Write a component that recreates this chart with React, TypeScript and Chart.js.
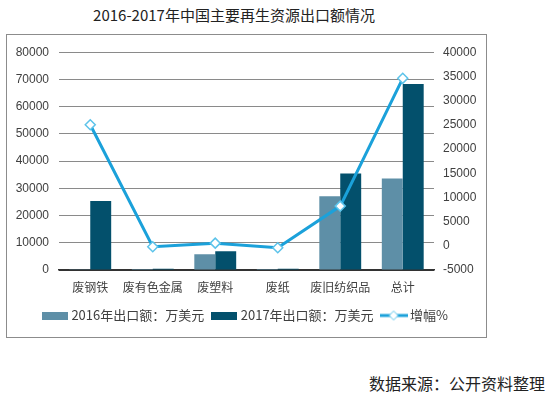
import React, { useEffect, useRef } from 'react';
import { Chart, registerables } from 'chart.js';

Chart.register(...registerables);

const categories = ['废钢铁', '废有色金属', '废塑料', '废纸', '废旧纺织品', '总计'];
const export2016 = [300, 400, 5800, 350, 27100, 33600];
const export2017 = [25300, 500, 6900, 450, 35400, 68300];
const growthPct = [25000, -200, 550, -400, 8200, 34600];
const seriesNames = ['2016年出口额：万美元', '2017年出口额：万美元', '增幅%'];
const titleText = '2016-2017年中国主要再生资源出口额情况';
const sourceText = '数据来源：公开资料整理';

const c2016 = '#5E8FA7';
const c2017 = '#03506C';
const lineColor = '#1BA1DA';
const markerBorder = '#5CC3EA';
const textColor = '#404040';
const cjk = '"Noto Sans CJK SC", "Noto Sans", sans-serif';
const num = '"Liberation Sans", Arial, sans-serif';

function mk(w: number, h: number, draw: (ctx: CanvasRenderingContext2D) => void) {
  const c = document.createElement('canvas');
  c.width = w;
  c.height = h;
  const ctx = c.getContext('2d') as CanvasRenderingContext2D;
  draw(ctx);
  return c;
}

export default function App() {
  const ref = useRef<HTMLCanvasElement>(null);
  useEffect(() => {
    const sw16 = mk(26, 8, (ctx) => { ctx.fillStyle = c2016; ctx.fillRect(0, 0, 26, 8); });
    const sw17 = mk(26, 8, (ctx) => { ctx.fillStyle = c2017; ctx.fillRect(0, 0, 26, 8); });
    const lineIc = mk(28, 12, (ctx) => {
      ctx.strokeStyle = lineColor;
      ctx.lineWidth = 3;
      ctx.beginPath();
      ctx.moveTo(0, 6);
      ctx.lineTo(28, 6);
      ctx.stroke();
      ctx.beginPath();
      ctx.moveTo(9.5, 6);
      ctx.lineTo(14, 1.5);
      ctx.lineTo(18.5, 6);
      ctx.lineTo(14, 10.5);
      ctx.closePath();
      ctx.fillStyle = '#fff';
      ctx.fill();
      ctx.lineWidth = 1;
      ctx.strokeStyle = markerBorder;
      ctx.stroke();
    });
    const icons = [sw16, sw17, lineIc];

    const chart = new Chart(ref.current as HTMLCanvasElement, {
      type: 'bar',
      data: {
        labels: categories,
        datasets: [
          {
            type: 'line',
            label: seriesNames[2],
            data: growthPct,
            yAxisID: 'y1',
            borderColor: lineColor,
            borderWidth: 3,
            tension: 0,
            pointStyle: 'rectRot',
            pointRadius: 5,
            pointBackgroundColor: '#fff',
            pointBorderColor: markerBorder,
            pointBorderWidth: 1.5,
            order: 0,
          } as any,
          {
            type: 'bar',
            label: seriesNames[0],
            data: export2016,
            yAxisID: 'y',
            backgroundColor: c2016,
            barPercentage: 1,
            categoryPercentage: 0.67,
            order: 1,
          },
          {
            type: 'bar',
            label: seriesNames[1],
            data: export2017,
            yAxisID: 'y',
            backgroundColor: c2017,
            barPercentage: 1,
            categoryPercentage: 0.67,
            order: 2,
          },
        ],
      },
      options: {
        responsive: false,
        maintainAspectRatio: false,
        animation: false,
        devicePixelRatio: 1,
        layout: { padding: { top: 9, left: 0, right: 0, bottom: 5 } },
        plugins: {
          tooltip: { enabled: false },
          title: { display: false },
          legend: {
            position: 'bottom',
            labels: {
              usePointStyle: true,
              pointStyleWidth: 20,
              padding: 10,
              font: { family: cjk, size: 13 },
              color: textColor,
              generateLabels: () =>
                seriesNames.map((t, i) => ({
                  text: t,
                  pointStyle: icons[i] as any,
                  fillStyle: 'transparent',
                  strokeStyle: 'transparent',
                  lineWidth: 0,
                  hidden: false,
                  fontColor: textColor,
                  datasetIndex: i,
                })),
            },
          },
        },
        scales: {
          x: {
            offset: true,
            grid: { display: false, drawTicks: false },
            border: { display: true, color: '#333', width: 1.5 },
            ticks: {
              padding: 10,
              autoSkip: false,
              maxRotation: 0,
              color: textColor,
              font: { family: cjk, size: 12 },
            },
            afterFit: (s: any) => { s.height = 29; },
          },
          y: {
            position: 'left',
            min: 0,
            max: 80000,
            grid: {
              drawTicks: false,
              color: (c: any) => (c.tick && c.tick.value === 0 ? '#333' : '#8a8a8a'),
            },
            border: { display: false },
            ticks: {
              stepSize: 10000,
              padding: 10,
              color: textColor,
              font: { family: num, size: 12 },
              callback: (v: any) => String(v),
            },
            afterFit: (s: any) => { s.width = 52; },
          },
          y1: {
            position: 'right',
            min: -5000,
            max: 40000,
            grid: { drawOnChartArea: false, drawTicks: false },
            border: { display: false },
            ticks: {
              stepSize: 5000,
              padding: 9,
              color: textColor,
              font: { family: num, size: 12 },
              callback: (v: any) => String(v),
            },
            afterFit: (s: any) => { s.width = 52; },
          },
        },
      } as any,
    });
    return () => chart.destroy();
  }, []);

  return (
    <div style={{ position: 'absolute', left: 0, top: 0, width: 549, height: 393, background: '#fff' }}>
      <div
        style={{
          position: 'absolute',
          left: 0,
          top: 5,
          width: 468,
          textAlign: 'center',
          fontFamily: cjk,
          fontSize: 15,
          lineHeight: '20px',
          color: '#222',
          whiteSpace: 'nowrap',
        }}
      >
        {titleText}
      </div>
      <div
        style={{
          position: 'absolute',
          left: 6,
          top: 34,
          width: 479,
          height: 302,
          border: '1px solid #8c8c8c',
        }}
      >
        <canvas ref={ref} width={479} height={302} style={{ display: 'block', width: 479, height: 302 }} />
      </div>
      <div
        style={{
          position: 'absolute',
          right: 4,
          top: 373,
          fontFamily: cjk,
          fontSize: 16,
          lineHeight: '20px',
          color: '#222',
          whiteSpace: 'nowrap',
        }}
      >
        {sourceText}
      </div>
    </div>
  );
}
